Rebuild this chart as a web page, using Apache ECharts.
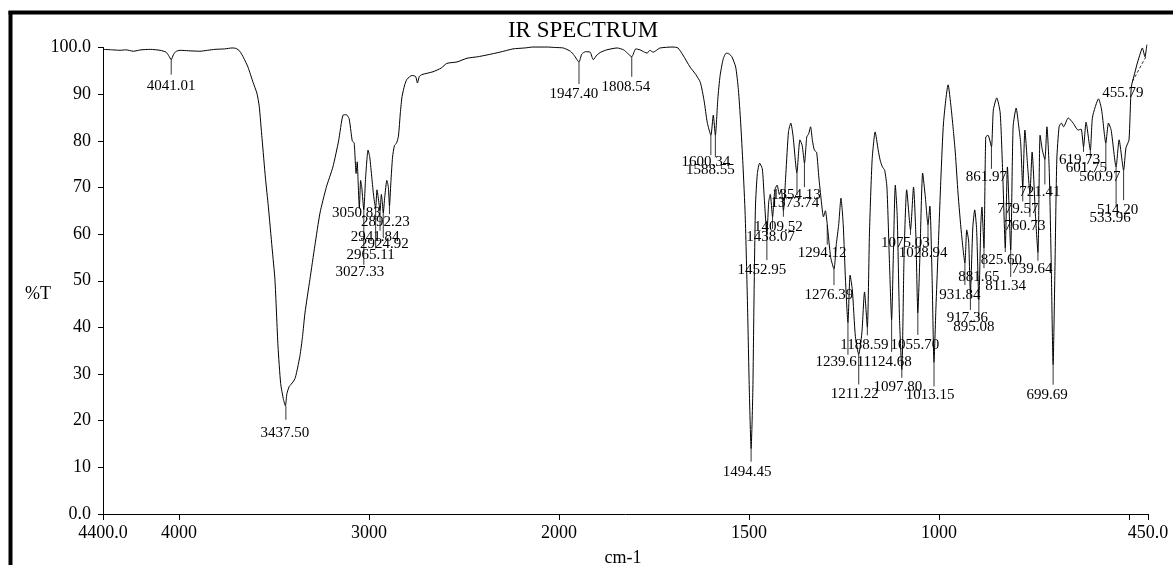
<!DOCTYPE html>
<html>
<head>
<meta charset="utf-8">
<title>IR SPECTRUM</title>
<script src="https://cdn.jsdelivr.net/npm/echarts@6/dist/echarts.min.js"></script>
<style>
  html, body { margin: 0; padding: 0; background: #fff; }
  #chart { width: 1173px; height: 565px; }
</style>
</head>
<body>
<div id="chart"></div>
<script>
// spectrum trace: [wavenumber cm-1, %T]
const spectrum = [
  [4400, 99.6], [4350, 99.5], [4310, 99.4], [4280, 99.5], [4240, 99.2], [4200, 99.5],
  [4150, 99.6], [4100, 99.4], [4068, 99.0], [4055, 98.3], [4041, 97.4], [4030, 98.4],
  [4018, 99.1], [3995, 99.4], [3950, 99.3], [3890, 99.2], [3850, 99.4], [3810, 99.6],
  [3760, 99.7], [3720, 99.9], [3700, 99.8], [3680, 99.2], [3660, 97.8], [3637, 95.8],
  [3610, 92.5], [3590, 90.2], [3578, 87.5], [3563, 80.5], [3545, 72], [3530, 66],
  [3510, 57], [3495, 50.2], [3479, 36], [3465, 28], [3450, 24.5], [3440, 23.2],
  [3432, 25.8], [3420, 27.3], [3400, 28.3], [3388, 29.2], [3375, 31.5], [3363, 34],
  [3350, 38], [3337, 43.1], [3311, 50.3], [3285, 57.5], [3258, 64.5], [3225, 70],
  [3190, 74.4], [3160, 80], [3137, 85.5], [3120, 85.6], [3105, 84.8], [3095, 82],
  [3088, 80], [3078, 79.5], [3068, 73], [3062, 75.5], [3058, 72], [3050.8, 65.5],
  [3044, 71.5], [3038, 70], [3027.3, 65.2], [3018, 72], [3005, 78], [2996, 76.5],
  [2985, 72], [2975, 68], [2965.1, 65.5], [2958, 69.5], [2952, 68], [2941.8, 65],
  [2935, 68.5], [2930, 67], [2924.9, 64.5], [2917, 68], [2906, 71.5], [2898, 70],
  [2892.2, 66], [2885, 71], [2876, 76.5], [2866, 79], [2855, 79.5], [2845, 81],
  [2835, 86], [2826, 89.5], [2812, 92], [2800, 93.2], [2774, 94], [2755, 93.8],
  [2745, 92.4], [2735, 93.8], [2721, 94.2], [2663, 94.8], [2620, 95.6], [2590, 96.6],
  [2537, 96.9], [2484, 97.7], [2430, 98.0], [2379, 98.4], [2311, 99], [2242, 99.7],
  [2180, 99.9], [2137, 100.1], [2063, 100.1], [2020, 100.0],
  [1989, 99.9], [1970, 99.2], [1960, 98.3], [1947.4, 96.9], [1940, 98.6], [1930, 99.1],
  [1918, 99.0], [1910, 97.4], [1900, 98.4], [1890, 99.0], [1874, 99.5], [1847, 99.9],
  [1830, 99.5], [1820, 98.8], [1808.5, 98], [1798, 99.7], [1787, 99.5], [1775, 99.0],
  [1768, 98.8], [1761, 99.4], [1752, 99.0], [1745, 99.3], [1734, 99.9], [1700, 100.1],
  [1687, 99.9], [1674, 98.4], [1655, 95.8], [1640, 94.2], [1628, 92.5], [1618, 88.5],
  [1610, 84], [1600.3, 81.2], [1594, 85.5], [1588.5, 81.2], [1582, 89], [1576, 94],
  [1568, 97.5], [1560, 98.8], [1552, 98.6], [1545, 98], [1535, 95.8], [1528, 91],
  [1522, 84], [1516, 75], [1510, 64], [1504, 45], [1499, 26], [1494.45, 14],
  [1490, 26], [1487, 45], [1483, 66], [1478, 73], [1472, 75.2], [1465, 74],
  [1460, 68], [1453, 60], [1448, 67], [1444, 68.5], [1438, 63.7], [1432, 69.5],
  [1426, 70.5], [1420, 68.5], [1415, 69.5], [1409.5, 65], [1403, 73], [1396, 82],
  [1390, 83.8], [1384, 81], [1374, 73.1], [1366, 80.2], [1360, 79], [1354, 75.2],
  [1348, 80.8], [1343, 81.5], [1338, 83], [1333, 80], [1328, 78], [1322, 77.5],
  [1316, 72], [1310, 67.3], [1304, 63.7], [1299, 65], [1294, 62], [1285, 55],
  [1276.4, 52.5], [1270, 58], [1264, 62], [1258, 67.7], [1252, 62], [1246, 50],
  [1239.6, 41], [1234, 51.2], [1228, 48], [1220, 38], [1211.2, 34.2], [1203, 38.8],
  [1196, 47.6], [1188.6, 40], [1183, 60.2], [1176, 75.9], [1168, 81.9], [1160, 78],
  [1155, 75.9], [1149, 74.4], [1143, 73.7], [1137, 70], [1130, 53], [1124.7, 41.6],
  [1120, 56], [1115, 70.5], [1110, 64], [1104, 42], [1097.8, 30.9], [1092, 55],
  [1085, 69.5], [1075, 60.9], [1067, 70.1], [1061, 60], [1055.7, 43.1], [1050, 56],
  [1043, 73.1], [1036, 68], [1029, 62], [1024, 66], [1018, 50], [1013.2, 32.5],
  [1008, 44.4], [1003, 55], [995, 72], [988, 84], [976, 92], [968, 87],
  [962, 82], [957, 77.4], [950, 68.8], [941, 60.2], [931.8, 53.8], [927, 60.9],
  [922, 58.5], [917.4, 47.4], [911, 61.5], [906, 65.2], [901, 61], [895.1, 45.9],
  [890, 62], [887, 65.8], [881.7, 57], [877, 80.8], [871, 81.2], [862, 78.7],
  [857, 86.6], [848, 89.2], [839, 86], [832, 72.2], [825.6, 57], [820, 74.4],
  [811.3, 56.6], [805, 83], [797, 87], [790, 83], [785, 79.5], [779.6, 70],
  [774, 82.3], [766, 73.7], [760.7, 68.8], [755, 77.6], [746, 63.7], [739.6, 56],
  [734, 81.2], [728, 78], [721.4, 76], [716, 83], [710, 74], [705, 55],
  [699.7, 32], [695, 52], [690, 75.9], [684, 83], [678, 83.8], [672, 83],
  [660, 84.9], [647, 83.8], [634, 82.3], [626, 82.5], [619.7, 78.7], [613, 84],
  [601.8, 78], [596, 85.1], [580, 89], [572, 86.6], [561, 79.5], [554, 83.8],
  [547, 82.3], [534, 74.4], [526, 80.2], [514.2, 73.7], [508, 78.5], [500, 80.2],
  [494, 91.5], [485, 94.5], [478, 96.7], [470, 98.8], [465, 99.9], [458, 98],
  [453, 100.6]
];

// peak annotations: label text (its wavenumber) and %T at the tip
const peakNames = [
  '4041.01', '3437.50', '3050.83', '3027.33', '2965.11', '2941.84', '2924.92', '2892.23',
  '1947.40', '1808.54', '1600.34', '1588.55', '1494.45', '1452.95', '1438.07', '1409.52',
  '1373.74', '1354.13', '1294.12', '1276.39', '1239.61', '1211.22', '1188.59', '1124.68',
  '1097.80', '1075.03', '1055.70', '1028.94', '1013.15', '931.84', '917.36', '895.08',
  '881.65', '861.97', '825.60', '811.34', '779.57', '760.73', '739.64', '721.41',
  '699.69', '619.73', '601.75', '560.97', '533.96', '514.20', '455.79'
];
const peakTips = [
  97.4, 23.2, 65.5, 65.2, 65.5, 65, 64.5, 66,
  96.9, 98, 81.2, 81.2, 14, 60, 63.7, 65,
  73.1, 75.2, 62, 52.5, 41, 34.2, 40, 41.6,
  30.9, 60.9, 43.1, 62, 32.5, 53.8, 47.4, 45.9,
  57, 78.7, 57, 56.6, 70, 68.8, 56, 76,
  32, 78.7, 78, 79.5, 74.4, 73.7, 98
];
// label layout in px: [tick length, text dx, text dy, slanted dashed leader]
const peakLayout = [
  [15, 0, 26], [14, -1, 27], [0, -3, 5], [55, -4, 62], [40, -5, 47], [20, -5, 26], [25, 1, 31], [8, -4, 16],
  [22, -5, 32], [20, -6, 30], [20, -5, 27], [22, -5, 35], [13, -4, 23], [26, -5, 36], [12, -2, 20], [6, -5, 16],
  [22, -2, 30], [24, -8, 32], [20, -5, 28], [16, -5, 26], [32, -8, 39], [30, -4, 40], [8, -3, 18], [32, -4, 42],
  [8, -4, 17], [5, -5, 13], [22, -3, 32], [20, -5, 28], [24, -4, 33], [22, -5, 32], [17, -3, 25], [18, -5, 27],
  [20, -5, 29], [22, -5, 30], [4, -4, 12], [27, -5, 36], [14, -5, 22], [24, -5, 33], [8, -6, 16], [25, -5, 33],
  [20, -6, 30], [5, -4, 13], [8, -4, 18], [25, -6, 34], [40, -6, 51], [30, -6, 40], [0, -23, 36, 1]
];

// axis ticks
const xTickCm = [4400, 4000, 3000, 2000, 1500, 1000, 500, 450];
const xLabelCm = [4400, 4000, 3000, 2000, 1500, 1000, 450];
const xLabelText = ['4400.0', '4000', '3000', '2000', '1500', '1000', '450.0'];
const yLabelText = { 0: '0.0', 100: '100.0' };

// the wavenumber scale is compressed by half above 2000 cm-1
function axisPos(cm) {
  return cm <= 2000 ? cm : 2000 + (cm - 2000) / 2;
}

const FONT = '"Liberation Serif", "Times New Roman", serif';

const chart = echarts.init(document.getElementById('chart'), null, { renderer: 'canvas' });

const peakData = peakNames.map((name, i) => [axisPos(parseFloat(name)), peakTips[i], i]);

chart.setOption({
  animation: false,
  backgroundColor: '#fff',
  grid: { left: 103, right: 25, top: 47.5, bottom: 51 },
  xAxis: {
    type: 'value',
    inverse: true,
    min: 450,
    max: 3200,
    axisLine: { show: true, lineStyle: { color: '#000', width: 1 } },
    axisTick: {
      show: true, length: 6, lineStyle: { color: '#000' },
      customValues: xTickCm.map(axisPos)
    },
    axisLabel: {
      customValues: xLabelCm.map(axisPos),
      formatter: v => {
        const i = xLabelCm.map(axisPos).indexOf(v);
        return i >= 0 ? xLabelText[i] : '';
      },
      color: '#000', fontFamily: FONT, fontSize: 18, margin: 10
    },
    splitLine: { show: false }
  },
  yAxis: {
    type: 'value',
    min: 0,
    max: 100,
    interval: 10,
    axisLine: { show: true, lineStyle: { color: '#000', width: 1 } },
    axisTick: { show: true, length: 5, lineStyle: { color: '#000' } },
    axisLabel: {
      formatter: v => (yLabelText[v] !== undefined ? yLabelText[v] : String(v)),
      color: '#000', fontFamily: FONT, fontSize: 18, margin: 12
    },
    splitLine: { show: false }
  },
  graphic: [
    { type: 'line', shape: { x1: 8.5, y1: 12.5, x2: 1173, y2: 12.5 }, style: { stroke: '#000', lineWidth: 4 } },
    { type: 'line', shape: { x1: 10.5, y1: 11, x2: 10.5, y2: 565 }, style: { stroke: '#000', lineWidth: 4 } },
    { type: 'text', x: 583, y: 31, style: { text: 'IR SPECTRUM', font: '23px ' + FONT, fill: '#000', textAlign: 'center', textVerticalAlign: 'middle' } },
    { type: 'text', x: 38, y: 294, style: { text: '%T', font: '18px ' + FONT, fill: '#000', textAlign: 'center', textVerticalAlign: 'middle' } },
    { type: 'text', x: 623, y: 558, style: { text: 'cm-1', font: '18px ' + FONT, fill: '#000', textAlign: 'center', textVerticalAlign: 'middle' } }
  ],
  series: [
    {
      type: 'line',
      data: spectrum.map(p => [axisPos(p[0]), p[1]]),
      showSymbol: false,
      smooth: 0.2,
      clip: false,
      lineStyle: { color: '#000', width: 1 },
      silent: true
    },
    {
      type: 'custom',
      data: peakData,
      silent: true,
      renderItem: (params, api) => {
        const i = api.value(2);
        const p = api.coord([api.value(0), api.value(1)]);
        const lay = peakLayout[i];
        const children = [];
        if (lay[3]) {
          children.push({
            type: 'line',
            shape: { x1: p[0], y1: p[1], x2: p[0] + lay[1] + 10, y2: p[1] + lay[2] - 12 },
            style: { stroke: '#000', lineWidth: 0.8, lineDash: [3, 2] }
          });
        } else if (lay[0] > 0) {
          children.push({
            type: 'line',
            shape: { x1: p[0], y1: p[1], x2: p[0], y2: p[1] + lay[0] },
            style: { stroke: '#000', lineWidth: 0.8 }
          });
        }
        children.push({
          type: 'text',
          x: p[0] + lay[1],
          y: p[1] + lay[2],
          style: {
            text: peakNames[i],
            font: '15px ' + FONT,
            fill: '#000',
            textAlign: 'center',
            textVerticalAlign: 'middle'
          }
        });
        return { type: 'group', children };
      }
    }
  ]
});
</script>
</body>
</html>
